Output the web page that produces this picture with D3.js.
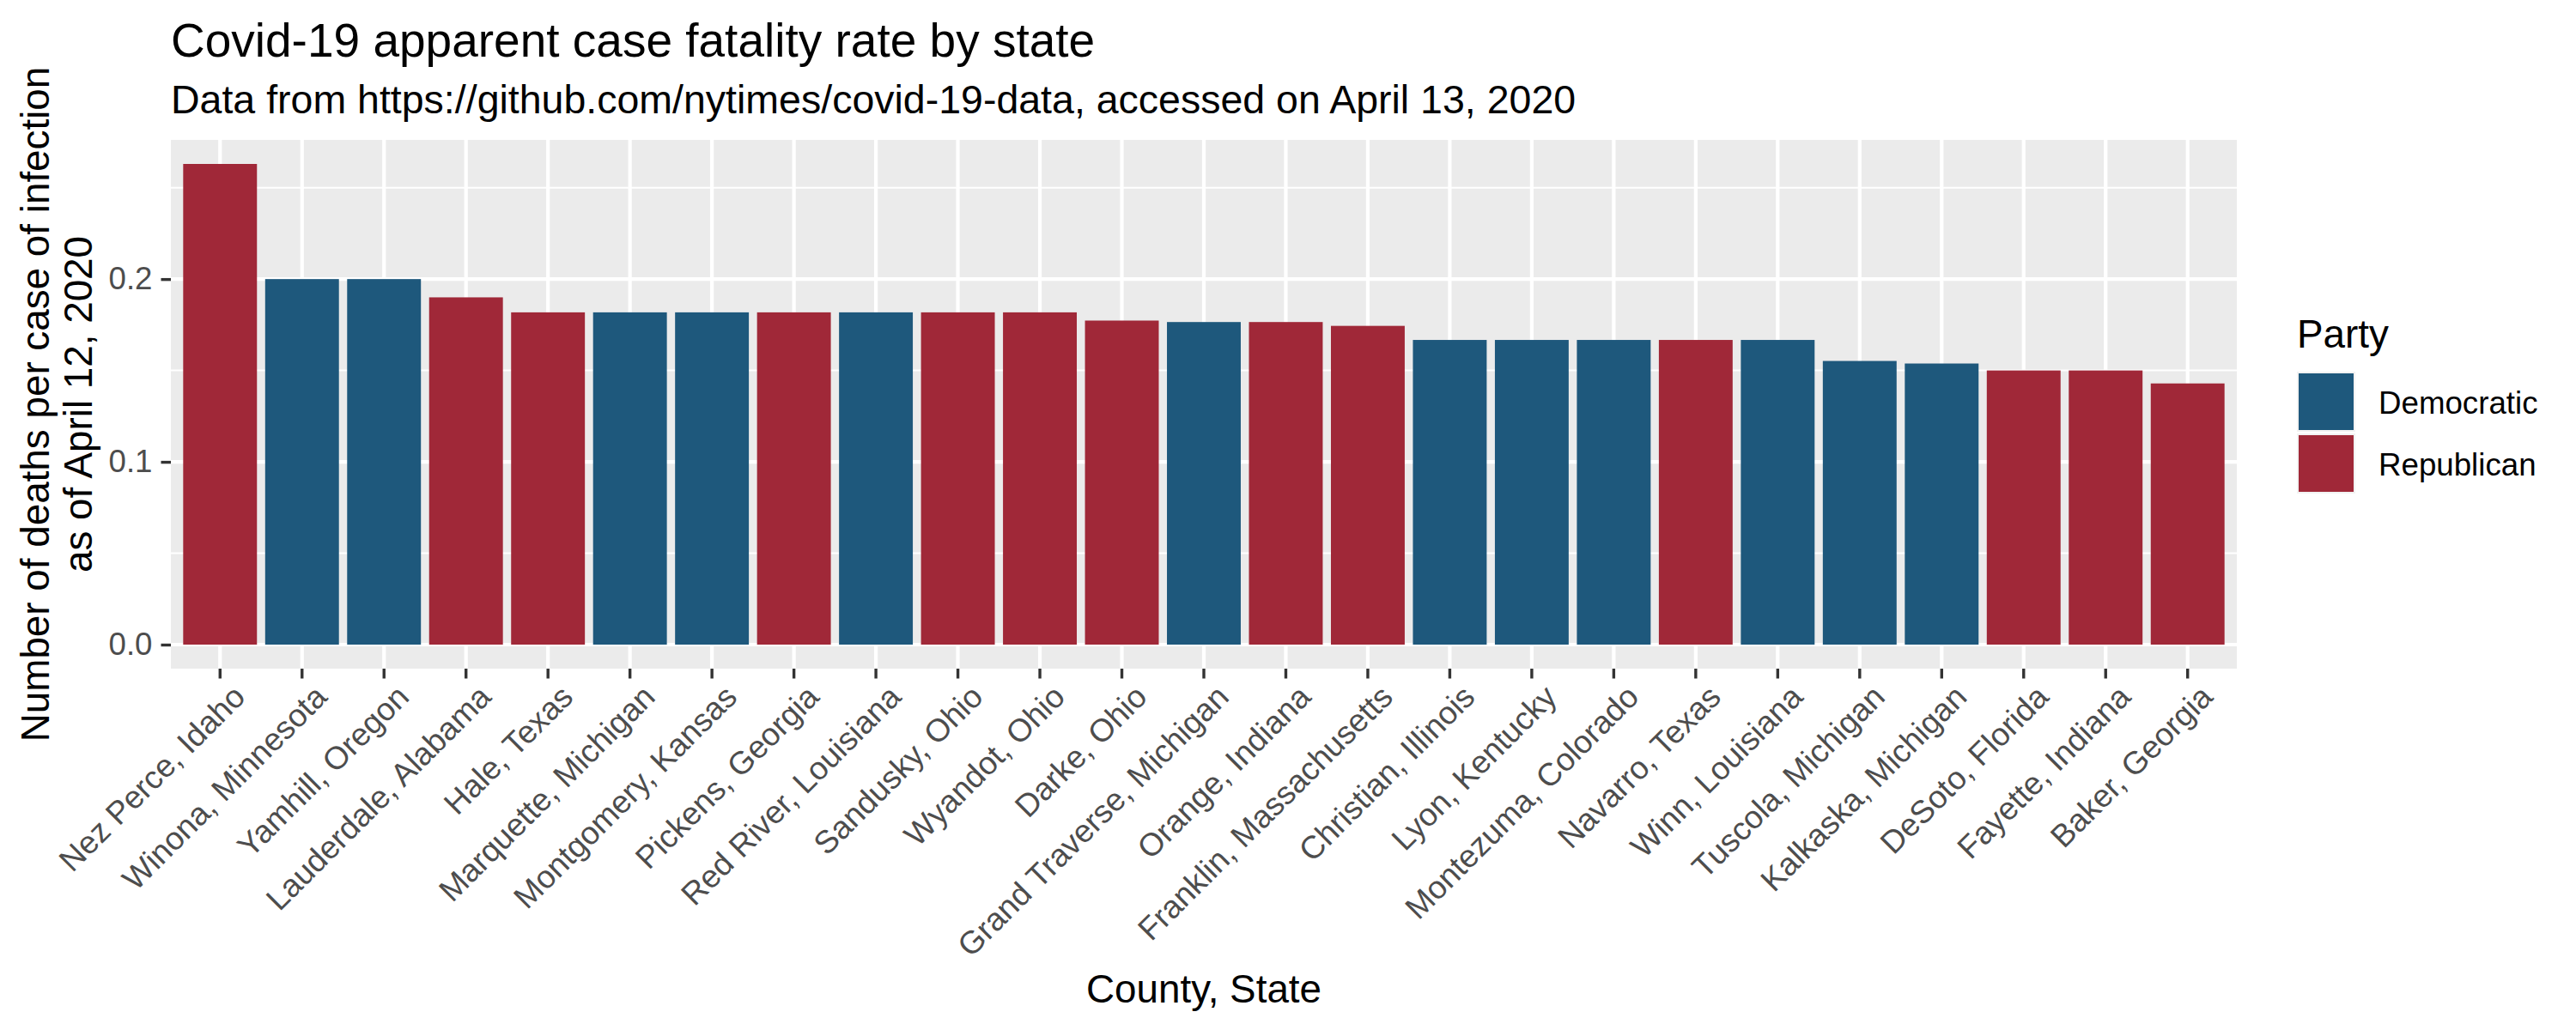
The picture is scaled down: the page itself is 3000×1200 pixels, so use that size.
<!DOCTYPE html>
<html>
<head>
<meta charset="utf-8">
<script src="https://cdn.jsdelivr.net/npm/d3@7"></script>
<style>
  html, body { margin: 0; padding: 0; background: #ffffff; }
  svg { display: block; font-family: "Liberation Sans", Arial, sans-serif; }
</style>
</head>
<body>
<svg id="chart" width="3000" height="1200"></svg>
<script>
// ---- data ----
const counties = [
  "Nez Perce, Idaho", "Winona, Minnesota", "Yamhill, Oregon", "Lauderdale, Alabama",
  "Hale, Texas", "Marquette, Michigan", "Montgomery, Kansas", "Pickens, Georgia",
  "Red River, Louisiana", "Sandusky, Ohio", "Wyandot, Ohio", "Darke, Ohio",
  "Grand Traverse, Michigan", "Orange, Indiana", "Franklin, Massachusetts",
  "Christian, Illinois", "Lyon, Kentucky", "Montezuma, Colorado", "Navarro, Texas",
  "Winn, Louisiana", "Tuscola, Michigan", "Kalkaska, Michigan", "DeSoto, Florida",
  "Fayette, Indiana", "Baker, Georgia"
];
const fatalityRate = [
  0.263, 0.2, 0.2, 0.19,
  0.1818, 0.1818, 0.1818, 0.1818,
  0.1818, 0.1818, 0.1818, 0.1773,
  0.1765, 0.1765, 0.1744,
  0.1667, 0.1667, 0.1667, 0.1667,
  0.1667, 0.1552, 0.1538, 0.15,
  0.15, 0.1429
];
const party = [
  "Republican", "Democratic", "Democratic", "Republican",
  "Republican", "Democratic", "Democratic", "Republican",
  "Democratic", "Republican", "Republican", "Republican",
  "Democratic", "Republican", "Republican",
  "Democratic", "Democratic", "Democratic", "Republican",
  "Democratic", "Democratic", "Democratic", "Republican",
  "Republican", "Republican"
];
const partyLevels = ["Democratic", "Republican"];
const partyColors = ["#1E587C", "#A02838"];
const yTicks = [0.0, 0.1, 0.2];
const yMinorTicks = [0.05, 0.15, 0.25];

const titleText = "Covid-19 apparent case fatality rate by state";
const subtitleText = "Data from https://github.com/nytimes/covid-19-data, accessed on April 13, 2020";
const yTitleLines = ["Number of deaths per case of infection", "as of April 12, 2020"];
const xTitleText = "County, State";
const legendTitle = "Party";

// ---- layout ----
const panel = { left: 199, right: 2605, top: 163, bottom: 779 };
const svg = d3.select("#chart");

const x = d3.scaleBand()
  .domain(counties)
  .range([panel.left, panel.right])
  .paddingInner(0.1)
  .paddingOuter(0.15);

const yMax = d3.max(fatalityRate);
const pad = yMax * 0.05;
const y = d3.scaleLinear()
  .domain([0 - pad, yMax + pad])
  .range([panel.bottom, panel.top]);

const color = d3.scaleOrdinal().domain(partyLevels).range(partyColors);

// panel background
svg.append("rect")
  .attr("x", panel.left).attr("y", panel.top)
  .attr("width", panel.right - panel.left)
  .attr("height", panel.bottom - panel.top)
  .attr("fill", "#EBEBEB");

// grid
const grid = svg.append("g");
grid.selectAll("line.minor").data(yMinorTicks).join("line")
  .attr("x1", panel.left).attr("x2", panel.right)
  .attr("y1", d => y(d)).attr("y2", d => y(d))
  .attr("stroke", "#ffffff").attr("stroke-width", 2);
grid.selectAll("line.majory").data(yTicks).join("line")
  .attr("x1", panel.left).attr("x2", panel.right)
  .attr("y1", d => y(d)).attr("y2", d => y(d))
  .attr("stroke", "#ffffff").attr("stroke-width", 4.2);
grid.selectAll("line.majorx").data(counties).join("line")
  .attr("x1", d => x(d) + x.bandwidth() / 2).attr("x2", d => x(d) + x.bandwidth() / 2)
  .attr("y1", panel.top).attr("y2", panel.bottom)
  .attr("stroke", "#ffffff").attr("stroke-width", 4.2);

// bars
svg.append("g").selectAll("rect").data(counties).join("rect")
  .attr("x", d => x(d))
  .attr("width", x.bandwidth())
  .attr("y", (d, i) => y(fatalityRate[i]))
  .attr("height", (d, i) => y(0) - y(fatalityRate[i]))
  .attr("fill", (d, i) => color(party[i]));

// y axis
const yAxis = svg.append("g")
  .attr("transform", `translate(${panel.left},0)`)
  .call(d3.axisLeft(y).tickValues(yTicks).tickFormat(d3.format(".1f")).tickSize(11.5).tickPadding(10));
yAxis.select(".domain").remove();
yAxis.selectAll(".tick line").attr("stroke", "#333333").attr("stroke-width", 3.4);
yAxis.selectAll(".tick text")
  .attr("fill", "#4D4D4D")
  .style("font-size", "36.7px")
  .style("font-family", "'Liberation Sans', Arial, sans-serif");

// x axis
const xAxis = svg.append("g")
  .attr("transform", `translate(0,${panel.bottom})`)
  .call(d3.axisBottom(x).tickSize(11.5).tickSizeOuter(0));
xAxis.select(".domain").remove();
xAxis.selectAll(".tick line").attr("stroke", "#333333").attr("stroke-width", 3.4);
xAxis.selectAll(".tick text")
  .attr("fill", "#4D4D4D")
  .style("font-size", "37.2px")
  .style("font-family", "'Liberation Sans', Arial, sans-serif")
  .attr("text-anchor", "end")
  .attr("dy", null)
  .attr("y", 0)
  .attr("transform", "translate(12,16) rotate(-45)")
  .attr("dominant-baseline", "hanging");

// titles
svg.append("text")
  .attr("x", 199).attr("y", 66)
  .attr("font-size", "55px").attr("fill", "#000")
  .text(titleText);
svg.append("text")
  .attr("x", 199).attr("y", 132)
  .attr("font-size", "46.5px").attr("fill", "#000")
  .text(subtitleText);

// y title
const yt = svg.append("text")
  .attr("transform", `translate(57,${(panel.top + panel.bottom) / 2}) rotate(-90)`)
  .attr("text-anchor", "middle")
  .attr("font-size", "45.8px").attr("fill", "#000");
yTitleLines.forEach((t, i) => {
  yt.append("tspan").attr("x", 0).attr("dy", i === 0 ? 0 : 50).text(t);
});

// x title
svg.append("text")
  .attr("x", (panel.left + panel.right) / 2).attr("y", 1168)
  .attr("text-anchor", "middle")
  .attr("font-size", "45.8px").attr("fill", "#000")
  .text(xTitleText);

// legend
const lg = svg.append("g");
lg.append("text").attr("x", 2675).attr("y", 405)
  .attr("font-size", "45.8px").attr("fill", "#000").text(legendTitle);
const keyTop = 433, keyH = 72;
partyLevels.forEach((p, i) => {
  lg.append("rect")
    .attr("x", 2675).attr("y", keyTop + i * keyH)
    .attr("width", 68).attr("height", keyH - 2)
    .attr("fill", "#F2F2F2");
  lg.append("rect")
    .attr("x", 2677).attr("y", keyTop + i * keyH + 2)
    .attr("width", 64).attr("height", keyH - 6)
    .attr("fill", color(p));
  lg.append("text")
    .attr("x", 2770).attr("y", keyTop + i * keyH + keyH / 2)
    .attr("dy", "0.35em")
    .attr("font-size", "36.7px").attr("fill", "#000").text(p);
});
</script>
</body>
</html>
